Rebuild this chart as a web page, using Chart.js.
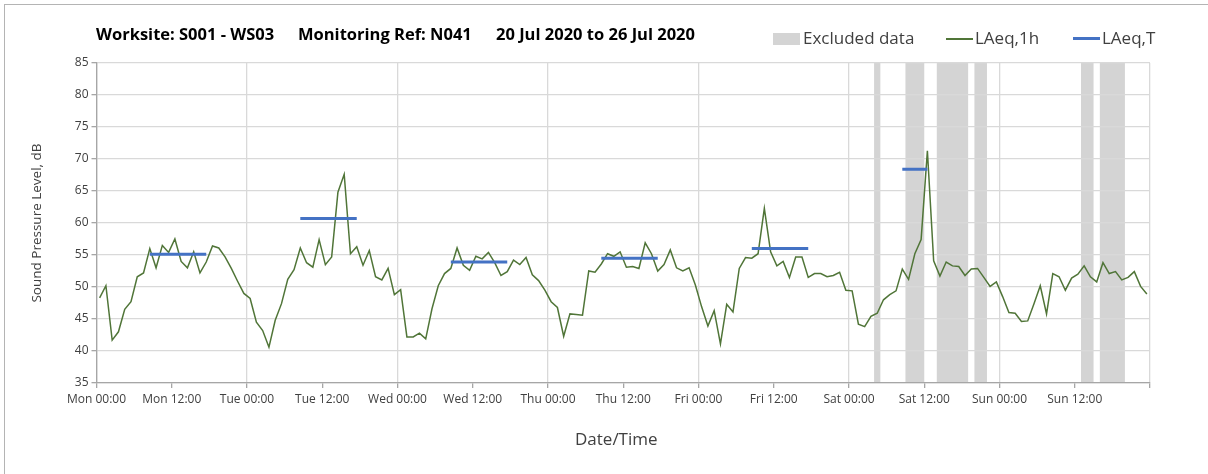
<!DOCTYPE html>
<html>
<head>
<meta charset="utf-8">
<script src="https://cdn.jsdelivr.net/npm/chart.js@4.4.1/dist/chart.umd.min.js"></script>
<style>
  html, body { margin: 0; padding: 0; background: #fff; overflow: hidden; }
  #wrap { position: relative; width: 1208px; height: 474px; overflow: hidden; }
  #frame { position: absolute; left: 4px; top: 4px; width: 1400px; height: 700px; border: 1px solid #b4b4b4; }
  #graf { position: absolute; left: 0; top: 0; }
  .titulo { position: absolute; top: 22px; font: bold 16.5px "Open Sans", sans-serif; color: #000; white-space: nowrap; }
  .leyenda { position: absolute; top: 26px; font: 17px "Open Sans", sans-serif; color: #404040; white-space: nowrap; }
  .eje { position: absolute; top: 427px; left: 575px; font: 17px "Open Sans", sans-serif; color: #404040; white-space: nowrap; }
  .marca { position: absolute; }
</style>
</head>
<body>
<div id="wrap">
  <div id="frame"></div>
  <canvas id="graf" width="1208" height="474"></canvas>
  <span class="titulo" style="left:96px">Worksite: S001 - WS03</span>
  <span class="titulo" style="left:298px">Monitoring Ref: N041</span>
  <span class="titulo" style="left:496px">20 Jul 2020 to 26 Jul 2020</span>

  <div class="marca" style="left:773px; top:33px; width:27px; height:12px; background:#d4d4d4"></div>
  <span class="leyenda" style="left:803px">Excluded data</span>
  <div class="marca" style="left:946px; top:38px; width:27px; height:2px; background:#507538"></div>
  <span class="leyenda" style="left:975px">LAeq,1h</span>
  <div class="marca" style="left:1073px; top:37px; width:27px; height:3px; background:#4472c4"></div>
  <span class="leyenda" style="left:1102px">LAeq,T</span>

  <span class="eje">Date/Time</span>
</div>
<script>
// Niveles horarios LAeq,1h (dB), lunes 00:00 a domingo 23:00
var laeq1h = [
    48.3, 50.2, 41.7, 43.0, 46.5, 47.7, 51.6, 52.2, 56.0, 53.0, 56.5, 55.4,
    57.5, 54.0, 53.0, 55.5, 52.2, 53.9, 56.4, 56.1, 54.7, 52.9, 50.9, 49.0,
    48.2, 44.5, 43.2, 40.6, 44.8, 47.4, 51.2, 52.7, 56.1, 53.8, 53.1, 57.4,
    53.5, 54.7, 64.8, 67.6, 55.2, 56.3, 53.4, 55.7, 51.6, 51.1, 52.9, 48.8,
    49.6, 42.2, 42.2, 42.8, 41.9, 46.6, 50.2, 52.1, 52.9, 56.1, 53.4, 52.6,
    54.8, 54.4, 55.4, 53.8, 51.8, 52.4, 54.2, 53.5, 54.6, 51.9, 51.0, 49.5,
    47.7, 46.8, 42.3, 45.8, 45.7, 45.6, 52.5, 52.3, 53.6, 55.2, 54.8, 55.5,
    53.1, 53.2, 52.9, 56.9, 55.2, 52.5, 53.5, 55.8, 53.0, 52.5, 53.0, 50.3,
    46.9, 43.9, 46.3, 41.1, 47.3, 46.1, 52.9, 54.6, 54.5, 55.2, 62.3, 55.5,
    53.3, 54.0, 51.5, 54.7, 54.7, 51.5, 52.1, 52.1, 51.6, 51.8, 52.3, 49.5,
    49.4, 44.2, 43.8, 45.4, 45.9, 48.0, 48.8, 49.4, 52.8, 51.2, 55.2, 57.4,
    71.3, 54.1, 51.7, 53.9, 53.3, 53.2, 51.8, 52.8, 52.9, 51.5, 50.1, 50.8,
    48.5, 46.0, 45.9, 44.6, 44.7, 47.4, 50.2, 45.8, 52.1, 51.6, 49.5, 51.4,
    52.0, 53.3, 51.6, 50.8, 53.8, 52.1, 52.4, 51.1, 51.5, 52.4, 50.1, 48.9
];

// Periodos LAeq,T (hora inicial y final desde el lunes 00:00) y su nivel
var periodoInicio = [8, 32, 56, 80, 104, 128];
var periodoFin = [17, 41, 65, 89, 113, 132];
var laeqT = [55.1, 60.7, 53.9, 54.5, 56.0, 68.4];

// Datos excluidos (horas desde el lunes 00:00)
var excluidoInicio = [124, 129, 134, 140, 157, 160];
var excluidoFin = [125, 132, 139, 142, 159, 164];

var dias = ["Mon", "Tue", "Wed", "Thu", "Fri", "Sat", "Sun"];
var horas = [" 00:00", " 12:00"];

// Cada valor horario se dibuja en el centro de su hora
var puntosHora = laeq1h.map(function (v, i) {
    return { x: i + 0.5, y: v };
});

var puntosT = [];
for (var p = 0; p < laeqT.length; p++) {
    puntosT.push({ x: periodoInicio[p] + 0.5, y: laeqT[p] });
    puntosT.push({ x: periodoFin[p] + 0.5, y: laeqT[p] });
    puntosT.push({ x: periodoFin[p] + 0.75, y: null });
}

// Bandas grises de datos excluidos, debajo de la rejilla
var bandasExcluidas = {
    id: "bandasExcluidas",
    beforeDraw: function (chart) {
        var ctx = chart.ctx;
        var xs = chart.scales.x;
        var area = chart.chartArea;
        ctx.save();
        ctx.fillStyle = "#d4d4d4";
        for (var i = 0; i < excluidoInicio.length; i++) {
            var x0 = xs.getPixelForValue(excluidoInicio[i]);
            var x1 = xs.getPixelForValue(excluidoFin[i]);
            ctx.fillRect(x0, area.top, x1 - x0, area.bottom - area.top);
        }
        ctx.restore();
    },
};

var fuente = "'Open Sans', sans-serif";
var ctx = document.getElementById("graf").getContext("2d");
var grafico = new Chart(ctx, {
    type: "line",
    data: {
        datasets: [
            {
                label: "LAeq,T",
                data: puntosT,
                borderColor: "#4472c4",
                borderWidth: 3,
                pointRadius: 0,
                spanGaps: false,
            },
            {
                label: "LAeq,1h",
                data: puntosHora,
                borderColor: "#507538",
                borderWidth: 1.5,
                pointRadius: 0,
                tension: 0,
            },
        ],
    },
    options: {
        responsive: false,
        animation: false,
        devicePixelRatio: 1,
        layout: { padding: { top: 63, right: 58, left: 0, bottom: 0 } },
        plugins: {
            legend: { display: false },
            tooltip: { enabled: false },
        },
        scales: {
            x: {
                type: "linear",
                min: 0,
                max: 168,
                afterFit: function (s) { s.height = 91; },
                ticks: {
                    stepSize: 12,
                    autoSkip: false,
                    maxRotation: 0,
                    padding: 4,
                    color: "#404040",
                    font: { family: fuente, size: 12 },
                    callback: function (v) {
                        if (v >= 168) return "";
                        return dias[Math.floor(v / 24)] + horas[(v % 24) / 12];
                    },
                },
                grid: {
                    color: function (c) {
                        return c.tick && c.tick.value % 24 === 0 ? "#d9d9d9" : "rgba(0,0,0,0)";
                    },
                    lineWidth: 1.3,
                    tickColor: "#a6a6a6",
                    tickLength: 5,
                },
                border: { color: "#a6a6a6", width: 1.3 },
            },
            y: {
                min: 35,
                max: 85,
                afterFit: function (s) { s.width = 96.5; },
                ticks: {
                    stepSize: 5,
                    padding: 3,
                    color: "#404040",
                    font: { family: fuente, size: 12 },
                },
                grid: {
                    color: "#d9d9d9",
                    lineWidth: 1.3,
                    tickColor: "#a6a6a6",
                    tickLength: 5,
                },
                border: { color: "#a6a6a6", width: 1.3 },
                title: {
                    display: true,
                    text: "Sound Pressure Level, dB",
                    color: "#404040",
                    font: { family: fuente, size: 13.5 },
                    padding: { top: 29, bottom: 0 },
                },
            },
        },
    },
    plugins: [bandasExcluidas],
});
</script>
</body>
</html>
